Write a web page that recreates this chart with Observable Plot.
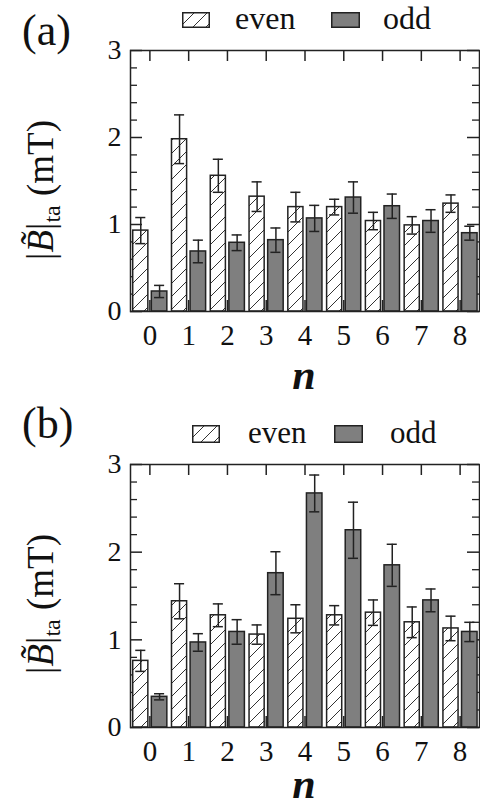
<!DOCTYPE html>
<html><head><meta charset="utf-8">
<script src="https://cdn.jsdelivr.net/npm/d3@7"></script>
<script src="https://cdn.jsdelivr.net/npm/@observablehq/plot@0.6"></script>
<style>
html,body{margin:0;padding:0;background:#fff;font-family:"Liberation Serif",serif;color:#111;}
#root{position:relative;width:480px;height:809px;overflow:hidden;background:#fff;}
#root > div{position:absolute;left:0;}
svg{display:block}
svg text, svg tspan{font-family:"Liberation Serif", serif;}
.lab{position:absolute;line-height:1;white-space:nowrap;font-family:"Liberation Serif",serif;}
.sw{position:absolute;overflow:visible;}
.ytitle{position:absolute;line-height:1;white-space:nowrap;font-size:37px;transform-origin:0 0;transform:rotate(-90deg) translateX(-50%);font-family:"Liberation Serif",serif;}
.ytitle sub{font-size:24px;position:relative;top:7px;vertical-align:baseline;}
.nlab{position:absolute;line-height:0.8;font-size:42px;font-style:italic;font-weight:bold;transform:translateX(-50%);font-family:"Liberation Serif",serif;}
</style></head><body>
<svg width="0" height="0" style="position:absolute">
  <defs>
    <pattern id="hatch" patternUnits="userSpaceOnUse" width="13" height="13">
      <rect width="13" height="13" fill="white"/>
      <path d="M-1,14 L14,-1 M-1,1 L1,-1 M12,14 L14,12" stroke="#333" stroke-width="1" fill="none"/>
    </pattern>
  </defs>
</svg>
<div id="root">
  <div id="pa" style="top:0"></div>
  <div id="pb" style="top:400px"></div>
  <!-- panel (a) annotations -->
  <div class="lab" style="left:22px;top:9px;font-size:44px">(a)</div>
  <svg class="sw" style="left:182px;top:12px" width="28" height="16"><rect x="0.75" y="0.75" width="26.5" height="14.5" fill="url(#hatch)" stroke="#222" stroke-width="1.5"/></svg>
  <div class="lab" style="left:235px;top:2px;font-size:32px" id="legA1"></div>
  <svg class="sw" style="left:331px;top:12px" width="29" height="16"><rect x="0.75" y="0.75" width="27.5" height="14.5" fill="#7f7f7f" stroke="#222" stroke-width="1.5"/></svg>
  <div class="lab" style="left:383px;top:2px;font-size:32px" id="legA2"></div>
  <div class="ytitle" style="left:22px;top:190px">|<i>B&#x303;</i>|<sub>ta</sub> (mT)</div>
  <div class="nlab" style="left:304px;top:359px">n</div>
  <!-- panel (b) annotations -->
  <div class="lab" style="left:22px;top:402px;font-size:44px">(b)</div>
  <svg class="sw" style="left:192px;top:425px" width="28" height="18"><rect x="0.75" y="0.75" width="26.5" height="16.5" fill="url(#hatch)" stroke="#222" stroke-width="1.5"/></svg>
  <div class="lab" style="left:248px;top:417px;font-size:31px" id="legB1"></div>
  <svg class="sw" style="left:334px;top:425px" width="29" height="18"><rect x="0.75" y="0.75" width="27.5" height="16.5" fill="#7f7f7f" stroke="#222" stroke-width="1.5"/></svg>
  <div class="lab" style="left:390px;top:417px;font-size:31px" id="legB2"></div>
  <div class="ytitle" style="left:22px;top:604px">|<i>B&#x303;</i>|<sub>ta</sub> (mT)</div>
  <div class="nlab" style="left:304px;top:768px">n</div>
</div>
<script>
// ---- data ----
const nValues = [0, 1, 2, 3, 4, 5, 6, 7, 8];
const yMajorTicks = [0, 1, 2, 3];
const yMinorTicks = [0.2, 0.4, 0.6, 0.8, 1.2, 1.4, 1.6, 1.8, 2.2, 2.4, 2.6, 2.8];
const seriesNames = ["even", "odd"];

const evenA    = [0.93, 1.98, 1.56, 1.32, 1.20, 1.20, 1.04, 0.99, 1.24];
const evenAErr = [0.15, 0.28, 0.19, 0.17, 0.17, 0.09, 0.10, 0.10, 0.10];
const oddA     = [0.23, 0.69, 0.79, 0.82, 1.07, 1.31, 1.21, 1.04, 0.90];
const oddAErr  = [0.07, 0.13, 0.09, 0.14, 0.15, 0.18, 0.14, 0.13, 0.08];

const evenB    = [0.76, 1.44, 1.28, 1.06, 1.24, 1.28, 1.31, 1.20, 1.13];
const evenBErr = [0.12, 0.20, 0.13, 0.11, 0.16, 0.11, 0.145, 0.175, 0.14];
const oddB     = [0.35, 0.97, 1.09, 1.76, 2.67, 2.25, 1.85, 1.45, 1.09];
const oddBErr  = [0.035, 0.10, 0.14, 0.245, 0.21, 0.32, 0.24, 0.13, 0.11];

const INK = "#222";

document.getElementById("legA1").textContent = seriesNames[0];
document.getElementById("legA2").textContent = seriesNames[1];
document.getElementById("legB1").textContent = seriesNames[0];
document.getElementById("legB2").textContent = seriesNames[1];

function table(vals, errs) {
  return nValues.map((n, i) => ({n, v: vals[i], e: errs[i]}));
}

function makePanel(cfg) {
  const W = 480, ML = 130, MR = 1;
  const innerW = W - ML - MR;
  const innerH = cfg.height - cfg.marginTop - cfg.marginBottom;
  const even = table(cfg.even, cfg.evenErr);
  const odd = table(cfg.odd, cfg.oddErr);
  const evenOff = [-0.43, -0.04], oddOff = [0.05, 0.45];
  const cE = (evenOff[0] + evenOff[1]) / 2, cO = (oddOff[0] + oddOff[1]) / 2;
  const cap = 0.13;
  const errMarks = (data, c) => [
    Plot.ruleX(data, {x: d => d.n + c, y1: d => d.v - d.e, y2: d => d.v + d.e, stroke: INK, strokeWidth: 1.5}),
    Plot.ruleY(data, {y: d => d.v + d.e, x1: d => d.n + c - cap, x2: d => d.n + c + cap, stroke: INK, strokeWidth: 1.5}),
    Plot.ruleY(data, {y: d => d.v - d.e, x1: d => d.n + c - cap, x2: d => d.n + c + cap, stroke: INK, strokeWidth: 1.5})
  ];
  const plot = Plot.plot({
    width: W, height: cfg.height,
    marginLeft: ML, marginRight: MR, marginTop: cfg.marginTop, marginBottom: cfg.marginBottom,
    x: {domain: [-0.5, 8.5]},
    y: {domain: [0, 3]},
    style: "font-family: 'Liberation Serif', serif; background: white; color: #111; overflow: visible;",
    marks: [
      Plot.tickY(yMajorTicks, {y: d => d, insetRight: innerW - 12, stroke: INK, strokeWidth: 1.5}),
      Plot.tickY(yMinorTicks, {y: d => d, insetRight: innerW - 7, stroke: INK, strokeWidth: 1.3}),
      Plot.tickY(yMajorTicks, {y: d => d, insetLeft: innerW - 12, stroke: INK, strokeWidth: 1.5}),
      Plot.tickY(yMinorTicks, {y: d => d, insetLeft: innerW - 7, stroke: INK, strokeWidth: 1.3}),
      Plot.tickX(nValues, {x: d => d, insetTop: innerH - 11, stroke: INK, strokeWidth: 1.5}),
      Plot.tickX(nValues, {x: d => d, insetBottom: innerH - 11, stroke: INK, strokeWidth: 1.5}),
      Plot.rectY(even, {x1: d => d.n + evenOff[0], x2: d => d.n + evenOff[1], y1: 0, y2: d => d.v,
        fill: "url(#hatch)", stroke: INK, strokeWidth: 1.5}),
      Plot.rectY(odd, {x1: d => d.n + oddOff[0], x2: d => d.n + oddOff[1], y1: 0, y2: d => d.v,
        fill: "#7f7f7f", stroke: INK, strokeWidth: 1.5}),
      ...errMarks(even, cE),
      ...errMarks(odd, cO),
      Plot.axisY({ticks: yMajorTicks, anchor: "left", tickSize: 0, tickPadding: 9, fontSize: 28, label: null, tickFormat: d => String(d)}),
      Plot.axisX({ticks: nValues, anchor: "bottom", tickSize: 0, tickPadding: 13, fontSize: 29, label: null, tickFormat: d => String(d)}),
      Plot.frame({stroke: INK, strokeWidth: 1.5})
    ]
  });
  d3.select(plot).attr("font-family", "Liberation Serif, serif");
  return plot;
}

document.getElementById("pa").appendChild(makePanel({
  height: 400, marginTop: 50, marginBottom: 89,
  even: evenA, evenErr: evenAErr, odd: oddA, oddErr: oddAErr
}));
document.getElementById("pb").appendChild(makePanel({
  height: 409, marginTop: 64, marginBottom: 82,
  even: evenB, evenErr: evenBErr, odd: oddB, oddErr: oddBErr
}));
</script>
</body></html>
